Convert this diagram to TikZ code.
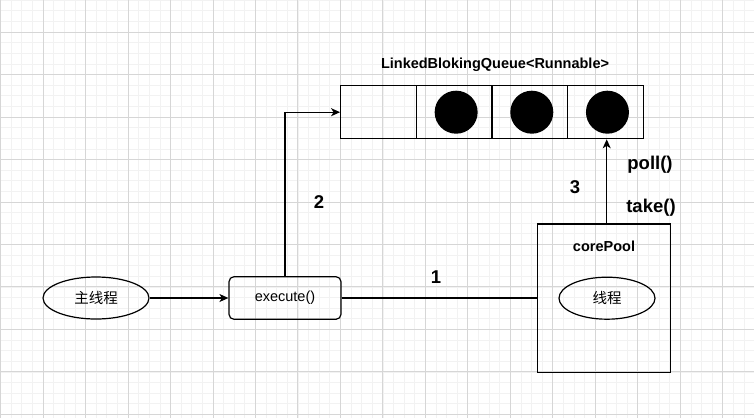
\documentclass[tikz,border=0pt]{standalone}
\usepackage{fontspec}
\setmainfont{Liberation Sans}
\newfontfamily\cjk{Noto Sans CJK SC}
\usetikzlibrary{arrows.meta, shapes.geometric, calc}

\tikzset{
    minorline/.style={draw=black!5, line width=0.6pt},
    majorline/.style={draw=black!16, line width=0.8pt},
    thread/.style={draw, ellipse, line width=1.2pt, inner sep=0pt, font=\cjk\fontsize{14.5}{16}\selectfont},
    call/.style={draw, rounded corners=5pt, line width=1.2pt, inner sep=0pt, font=\fontsize{14.5}{16}\selectfont},
    cell/.style={draw, line width=1.2pt, minimum width=75.65pt, minimum height=53pt, inner sep=0pt},
    ball/.style={circle, fill=black, minimum size=43pt, inner sep=0pt},
    pool/.style={draw, line width=1.2pt, minimum width=133pt, minimum height=148.7pt, inner sep=0pt},
    title/.style={font=\bfseries\fontsize{14.5}{16}\selectfont},
    tag/.style={font=\bfseries\fontsize{18.5}{20}\selectfont},
    link/.style={line width=1.2pt},
    arrow/.style={line width=1.2pt, -{Stealth[length=9pt, width=8pt, inset=2.5pt]}}
}

\begin{document}
\begin{tikzpicture}[x=1pt, y=-1pt]

    % the frame
    \useasboundingbox[fill=white] (0, 0) rectangle (754, 418);

    % the grid
    \foreach \i in {0,...,70} {
        \draw[minorline] ({0.5+10.62*\i}, 0) -- ({0.5+10.62*\i}, 418);
    }
    \foreach \i in {0,...,39} {
        \draw[minorline] (0, {0.14+10.62*\i}) -- (754, {0.14+10.62*\i});
    }
    \foreach \i in {0,...,17} {
        \draw[majorline] ({0.5+42.48*\i}, 0) -- ({0.5+42.48*\i}, 418);
    }
    \foreach \i in {0,...,9} {
        \draw[majorline] (0, {32+42.48*\i}) -- (754, {32+42.48*\i});
    }

    % the queue
    \foreach \i in {1,...,4} {
        \node[cell] (c\i) at ({378.5+75.65*(\i-1)}, 112.2) {};
    }
    \foreach \i in {2,...,4} {
        \node[ball] (b\i) at ($(c\i.center)+(2,0)$) {};
    }
    \node[title] (queue) at (495, 65) {LinkedBlokingQueue<Runnable>};

    % the threads
    \node[thread, minimum width=106pt, minimum height=42pt] (main) at (96, 298) {主线程};
    \node[call, minimum width=112pt, minimum height=42.6pt] (exec) at (285, 298) {execute()};
    \node[pool] (pool) at (603.8, 298.3) {};
    \node[title] (poolname) at (604, 246) {corePool};
    \node[thread, minimum width=96pt, minimum height=42pt] (worker) at (607, 298.2) {线程};

    % the links
    \coordinate (tap) at (606.7, 0);
    \draw[arrow] (main) -- (exec);
    \draw[arrow] (exec.north) |- (c1.west);
    \draw[link] (exec) -- (exec -| pool.west);
    \draw[arrow] (pool.north -| tap) -- (c4.south -| tap);

    % labels
    \node[tag] (one) at (436, 277) {1};
    \node[tag] (two) at (319, 202) {2};
    \node[tag] (three) at (575, 187) {3};
    \node[tag] (poll) at (650, 165) {poll()};
    \node[tag] (take) at (651, 208) {take()};

\end{tikzpicture}
\end{document}
